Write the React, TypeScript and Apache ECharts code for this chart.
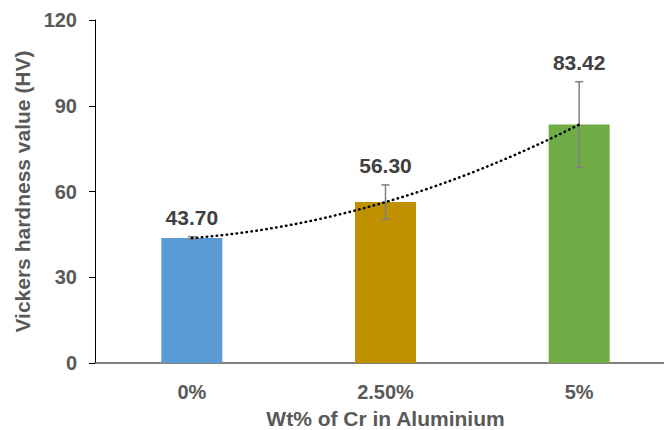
import React, { useEffect, useRef } from "react";
import * as echarts from "echarts";

const categories = ["0%", "2.50%", "5%"];
const hardness = [43.7, 56.3, 83.42];
const errors = [0.5, 6.0, 15.0];
const labels = ["43.70", "56.30", "83.42"];
const barColors = ["#5B9BD5", "#BF9000", "#70AD47"];
const yTicks = { min: 0, max: 120, interval: 30 };

const FONT = "'Liberation Sans', Arial, sans-serif";

export default function App() {
  const ref = useRef<HTMLDivElement>(null);
  useEffect(() => {
    document.body.style.margin = "0";
    const chart = echarts.init(ref.current!, null, { renderer: "svg" });
    const option: any = {
      animation: false,
      grid: { left: 95, top: 20, width: 581, bottom: 67, outerBoundsMode: "none", containLabel: false },
      xAxis: {
        type: "category",
        data: categories,
        name: "Wt% of Cr in Aluminium",
        nameLocation: "middle",
        nameGap: 45,
        nameTextStyle: { color: "#595959", fontSize: 21, fontWeight: "bold", fontFamily: FONT },
        axisLine: { lineStyle: { color: "#595959", width: 1.5 } },
        axisTick: { alignWithLabel: true, length: 6, lineStyle: { color: "#595959" } },
        axisLabel: { color: "#595959", fontSize: 20, fontWeight: "bold", fontFamily: FONT, margin: 19 },
      },
      yAxis: {
        type: "value",
        min: yTicks.min,
        max: yTicks.max,
        interval: yTicks.interval,
        name: "Vickers hardness value (HV)",
        nameLocation: "middle",
        nameGap: 57,
        nameTextStyle: { color: "#595959", fontSize: 21, fontWeight: "bold", fontFamily: FONT },
        axisLine: { show: true, lineStyle: { color: "#000", width: 1 } },
        axisTick: { show: true, length: 6, lineStyle: { color: "#000" } },
        splitLine: { show: false },
        axisLabel: { color: "#595959", fontSize: 20, fontWeight: "bold", fontFamily: FONT, margin: 18 },
      },
      series: [
        {
          type: "bar",
          barWidth: 61,
          data: hardness.map((v, i) => ({ value: v, itemStyle: { color: barColors[i] } })),
        },
        {
          type: "custom",
          data: hardness.map((v, i) => [i, v]),
          z: 5,
          renderItem: (params: any, api: any) => {
            const i = params.dataIndex;
            const v = hardness[i];
            const e = errors[i];
            const top = api.coord([i, v + e]);
            const bot = api.coord([i, v - e]);
            const cap = 4;
            const ls = { stroke: "#7F7F7F", lineWidth: 1.5 };
            return {
              type: "group",
              children: [
                { type: "line", shape: { x1: top[0], y1: top[1], x2: bot[0], y2: bot[1] }, style: ls },
                { type: "line", shape: { x1: top[0] - cap, y1: top[1], x2: top[0] + cap, y2: top[1] }, style: ls },
                { type: "line", shape: { x1: bot[0] - cap, y1: bot[1], x2: bot[0] + cap, y2: bot[1] }, style: ls },
                {
                  type: "text",
                  style: {
                    text: labels[i],
                    x: top[0],
                    y: top[1] - 9,
                    align: "center",
                    verticalAlign: "bottom",
                    fill: "#404040",
                    fontSize: 21,
                    fontWeight: "bold",
                    fontFamily: FONT,
                  },
                },
              ],
            };
          },
        },
        {
          type: "custom",
          data: [[0, hardness[0]]],
          z: 6,
          renderItem: (params: any, api: any) => {
            const p0 = api.coord([0, hardness[0]]);
            const p2 = api.coord([2, hardness[2]]);
            const cy = 2 * hardness[1] - (hardness[0] + hardness[2]) / 2;
            const c = api.coord([1, cy]);
            return {
              type: "bezierCurve",
              shape: { x1: p0[0], y1: p0[1], x2: p2[0], y2: p2[1], cpx1: c[0], cpy1: c[1] },
              style: { stroke: "#000", lineWidth: 2.5, lineDash: [0.5, 4.5], lineCap: "round", fill: null },
            };
          },
        },
      ],
    };
    chart.setOption(option);
    return () => chart.dispose();
  }, []);
  return <div ref={ref} style={{ width: 664, height: 430 }} />;
}
